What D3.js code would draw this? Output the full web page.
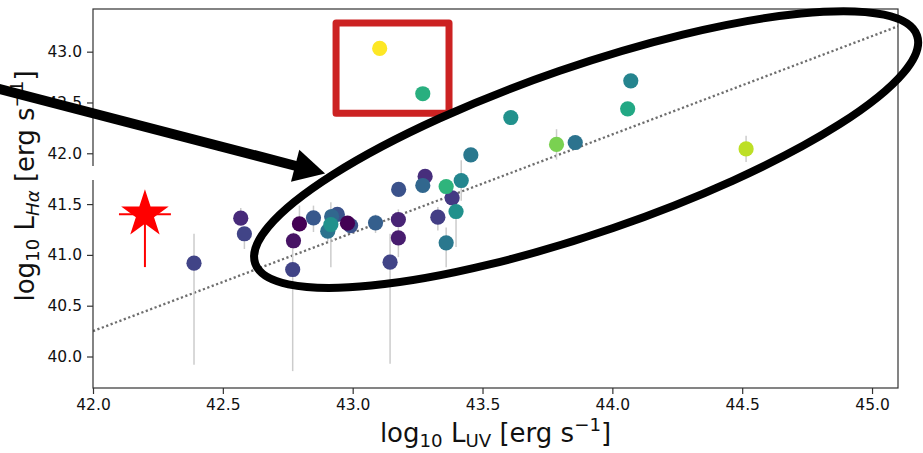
<!DOCTYPE html>
<html>
<head>
<meta charset="utf-8">
<script src="https://cdn.jsdelivr.net/npm/d3@7/dist/d3.min.js"></script>
<style>
  html, body { margin: 0; padding: 0; background: #fff; }
  svg { display: block; font-family: "DejaVu Sans", sans-serif; }
</style>
</head>
<body>
<svg id="chart" width="923" height="453"></svg>
<script>
// UV luminosity (log10 erg/s) of each galaxy
const logLUV = [
  42.389, 42.569, 42.583, 42.769, 42.772, 42.795, 42.849, 42.941, 42.919, 42.904,
  42.916, 42.992, 42.980, 43.088, 43.144, 43.176, 43.176, 43.177, 43.279, 43.270,
  43.328, 43.360, 43.383, 43.360, 43.398, 43.418, 43.455, 43.609, 43.785, 43.857,
  44.059, 44.071, 44.515, 43.270, 43.104
];
// H-alpha luminosity (log10 erg/s)
const logLHa = [
  40.918, 41.361, 41.208, 40.856, 41.139, 41.306, 41.365, 41.398, 41.378, 41.233,
  41.299, 41.289, 41.312, 41.316, 40.928, 41.348, 41.168, 41.644, 41.772, 41.683,
  41.371, 41.119, 41.562, 41.673, 41.427, 41.732, 41.984, 42.352, 42.087, 42.106,
  42.438, 42.713, 42.043, 42.586, 43.032
];
// lower / upper uncertainties on log L(H-alpha)
const errLow = [
  1.00, 0.05, 0.15, 1.00, 0.08, 0.08, 0.14, 0.05, 0.05, 0.10,
  0.42, 0.05, 0.05, 0.10, 1.00, 0.05, 0.19, 0.05, 0.05, 0.05,
  0.13, 0.24, 0.05, 0.05, 0.35, 0.20, 0.05, 0.00, 0.15, 0.00,
  0.00, 0.00, 0.13, 0.00, 0.00
];
const errHigh = [
  0.29, 0.10, 0.05, 0.28, 0.08, 0.18, 0.12, 0.05, 0.05, 0.10,
  0.22, 0.05, 0.05, 0.08, 0.28, 0.10, 0.10, 0.05, 0.05, 0.05,
  0.10, 0.15, 0.05, 0.05, 0.10, 0.20, 0.05, 0.00, 0.15, 0.00,
  0.00, 0.00, 0.13, 0.00, 0.00
];
// colour-coding quantity (0..1 on the viridis map)
const colourValue = [
  0.20, 0.12, 0.20, 0.20, 0.05, 0.00, 0.27, 0.25, 0.33, 0.38,
  0.50, 0.25, 0.00, 0.30, 0.20, 0.10, 0.08, 0.25, 0.13, 0.33,
  0.18, 0.40, 0.17, 0.65, 0.50, 0.46, 0.40, 0.50, 0.80, 0.38,
  0.60, 0.45, 0.90, 0.63, 1.00
];

// single highlighted object (red star)
const starLUV = 42.2, starLHa = 41.4;
const starXErr = 0.1, starYErrLow = 0.52, starYErrHigh = 0.2;

// best-fit relation
const fitLUV = [42.0, 45.1];
const fitLHa = [40.25, 43.25];

const xTicks = [42.0, 42.5, 43.0, 43.5, 44.0, 44.5, 45.0];
const yTicks = [40.0, 40.5, 41.0, 41.5, 42.0, 42.5, 43.0];

// annotation anchors, in data coordinates
const boxCorners = [[42.936, 43.283], [43.371, 42.395]];
const ellipseCentre = [43.899, 42.037];
const arrowFrom = [41.604, 42.657];
const arrowTip = [42.894, 41.801];

const svg = d3.select("#chart");
const pLeft = 93, pRight = 898, pTop = 9, pBottom = 388;

const x = d3.scaleLinear().domain([42.0, 45.1]).range([pLeft, pRight]);
const y = d3.scaleLinear().domain([39.69, 43.42]).range([pBottom, pTop]);

svg.append("defs").append("clipPath").attr("id", "plotclip")
  .append("rect").attr("x", pLeft).attr("y", pTop)
  .attr("width", pRight - pLeft).attr("height", pBottom - pTop);

const plot = svg.append("g").attr("clip-path", "url(#plotclip)");

// dotted fit line
plot.append("line")
  .attr("x1", x(fitLUV[0])).attr("y1", y(fitLHa[0]))
  .attr("x2", x(fitLUV[1])).attr("y2", y(fitLHa[1]))
  .attr("stroke", "#6e6e6e").attr("stroke-width", 2.3)
  .attr("stroke-dasharray", "2.2,2.5");

const idx = d3.range(logLUV.length);

// error bars
plot.append("g").selectAll("line").data(idx).join("line")
  .attr("x1", i => x(logLUV[i])).attr("x2", i => x(logLUV[i]))
  .attr("y1", i => y(logLHa[i] - errLow[i]))
  .attr("y2", i => y(logLHa[i] + errHigh[i]))
  .attr("stroke", "#cccccc").attr("stroke-width", 1.5);

// points
plot.append("g").selectAll("circle").data(idx).join("circle")
  .attr("cx", i => x(logLUV[i])).attr("cy", i => y(logLHa[i]))
  .attr("r", 7.6)
  .attr("fill", i => d3.interpolateViridis(colourValue[i]));

// red star with its error bars
const sx = x(starLUV), sy = y(starLHa);
const starG = plot.append("g");
starG.append("line").attr("x1", x(starLUV - starXErr)).attr("x2", x(starLUV + starXErr))
  .attr("y1", sy).attr("y2", sy).attr("stroke", "red").attr("stroke-width", 2);
starG.append("line").attr("x1", sx).attr("x2", sx)
  .attr("y1", y(starLHa - starYErrLow)).attr("y2", y(starLHa + starYErrHigh))
  .attr("stroke", "red").attr("stroke-width", 2);
const R = 25, r = R * 0.381966;
const starPts = d3.range(10).map(k => {
  const a = -Math.PI / 2 + k * Math.PI / 5;
  const rad = k % 2 === 0 ? R : r;
  return [sx + rad * Math.cos(a), sy + rad * Math.sin(a)];
});
starG.append("path").attr("d", "M" + starPts.join("L") + "Z").attr("fill", "red");

// axes
const fmt = d3.format(".1f");
const xAxis = svg.append("g").attr("transform", `translate(0,${pBottom})`)
  .call(d3.axisBottom(x).tickValues(xTicks).tickFormat(fmt).tickSize(6).tickPadding(5));
const yAxis = svg.append("g").attr("transform", `translate(${pLeft},0)`)
  .call(d3.axisLeft(y).tickValues(yTicks).tickFormat(fmt).tickSize(6).tickPadding(5));
[xAxis, yAxis].forEach(g => {
  g.select(".domain").remove();
  g.selectAll(".tick line").attr("stroke", "#333").attr("stroke-width", 1.2);
  g.selectAll(".tick text").attr("font-size", 15.5).attr("fill", "#111")
    .attr("font-family", "DejaVu Sans");
});

// frame
svg.append("rect").attr("x", pLeft).attr("y", pTop)
  .attr("width", pRight - pLeft).attr("height", pBottom - pTop)
  .attr("fill", "none").attr("stroke", "#333").attr("stroke-width", 1.2);
svg.append("rect").attr("x", pLeft - 3).attr("y", 166)
  .attr("width", 6).attr("height", 14).attr("fill", "#fff");

// axis titles with sub/superscripts
function mathLabel(sel, parts, fs) {
  parts.forEach(p => {
    const t = sel.append("tspan").text(p.t);
    if (p.sub) t.attr("font-size", fs * 0.7).attr("dy", fs * 0.2);
    if (p.sup) t.attr("font-size", fs * 0.7).attr("dy", -fs * 0.42);
    if (p.back) t.attr("dy", p.back * fs);
    if (p.it) t.attr("font-style", "italic");
  });
}
const fs = 26;
const xt = svg.append("text").attr("x", (pLeft + pRight) / 2).attr("y", 442)
  .attr("text-anchor", "middle").attr("font-size", fs).attr("fill", "#111");
mathLabel(xt, [
  { t: "log" }, { t: "10", sub: true }, { t: " L", back: -0.2 }, { t: "UV", sub: true },
  { t: " [erg s", back: -0.2 }, { t: "−1", sup: true }, { t: "]", back: 0.42 }
], fs);

const yt = svg.append("text").attr("transform", `translate(34,186) rotate(-90)`)
  .attr("text-anchor", "middle").attr("font-size", fs).attr("fill", "#111");
mathLabel(yt, [
  { t: "log" }, { t: "10", sub: true }, { t: " L", back: -0.2 }, { t: "Hα", sub: true, it: true },
  { t: " [erg s", back: -0.2 }, { t: "−1", sup: true }, { t: "]", back: 0.42 }
], fs);

// annotations: highlight box, ellipse and arrow
const ann = svg.append("g");
ann.append("rect")
  .attr("x", x(boxCorners[0][0])).attr("y", y(boxCorners[0][1]))
  .attr("width", x(boxCorners[1][0]) - x(boxCorners[0][0]))
  .attr("height", y(boxCorners[1][1]) - y(boxCorners[0][1]))
  .attr("fill", "none").attr("stroke", "#cc2222").attr("stroke-width", 7)
  .attr("stroke-linejoin", "round");

ann.append("ellipse")
  .attr("transform", `translate(${x(ellipseCentre[0])},${y(ellipseCentre[1])}) rotate(-19)`)
  .attr("rx", 350).attr("ry", 83)
  .attr("fill", "none").attr("stroke", "#000").attr("stroke-width", 8);

const ax0 = x(arrowFrom[0]), ay0 = y(arrowFrom[1]);
const ax1 = x(arrowTip[0]), ay1 = y(arrowTip[1]);
const len = Math.hypot(ax1 - ax0, ay1 - ay0);
const ux = (ax1 - ax0) / len, uy = (ay1 - ay0) / len;
const headL = 31, headW = 16.5;
const bx = ax1 - headL * ux, by = ay1 - headL * uy;
ann.append("line").attr("x1", ax0).attr("y1", ay0)
  .attr("x2", bx + 2 * ux).attr("y2", by + 2 * uy)
  .attr("stroke", "#000").attr("stroke-width", 10);
ann.append("path")
  .attr("d", `M${ax1},${ay1}L${bx - headW * uy},${by + headW * ux}L${bx + headW * uy},${by - headW * ux}Z`)
  .attr("fill", "#000");
</script>
</body>
</html>
